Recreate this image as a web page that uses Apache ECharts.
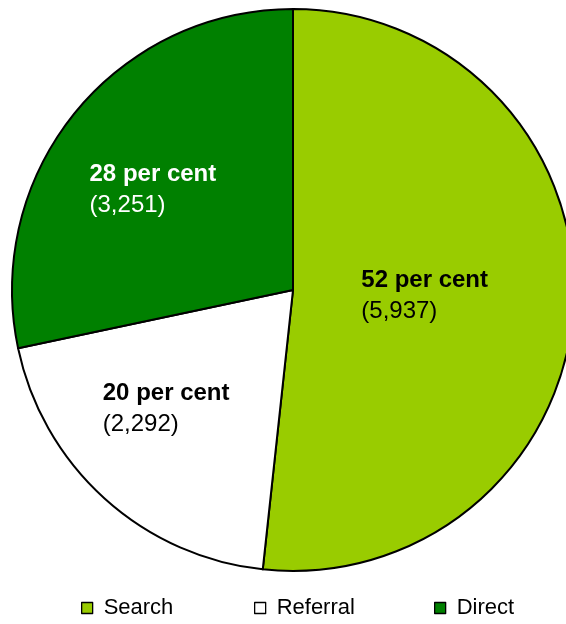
<!DOCTYPE html>
<html>
<head>
<meta charset="utf-8">
<script src="https://cdn.jsdelivr.net/npm/echarts@6/dist/echarts.min.js"></script>
<style>
  html, body { margin: 0; padding: 0; background: #fff; }
  #chart { width: 566px; height: 624px; }
</style>
</head>
<body>
<div id="chart"></div>
<script>
// Visits by traffic source
const categories = ['Search', 'Referral', 'Direct'];
const visits = [5937, 2292, 3251];
const sliceColors = ['#99CC00', '#FFFFFF', '#008000'];
const labelColors = ['#000000', '#000000', '#FFFFFF'];

const FONT = "'Liberation Sans', Arial, Helvetica, sans-serif";

// Nudges of each label block away from the slice's inner anchor point
const labelShift = [[-11, -2], [-30, 12], [-28, -10]];
// Left edge of each legend entry
const legendLeft = [76, 249, 429];

const total = visits.reduce((a, b) => a + b, 0);

const chart = echarts.init(document.getElementById('chart'), null, { renderer: 'canvas' });

const seriesData = categories.map((name, i) => ({
  name: name,
  value: visits[i],
  itemStyle: { color: sliceColors[i] },
  label: { color: labelColors[i] }
}));

const legends = categories.map((name, i) => ({
  data: [name],
  left: legendLeft[i],
  top: 592,
  orient: 'horizontal',
  icon: 'rect',
  itemWidth: 11,
  itemHeight: 11,
  itemStyle: { borderColor: '#000', borderWidth: 1.3 },
  selectedMode: false,
  textStyle: {
    fontFamily: FONT,
    fontSize: 22,
    color: '#000',
    padding: [0, 0, 0, 6]
  }
}));

chart.setOption({
  animation: false,
  backgroundColor: '#fff',
  legend: legends,
  series: [{
    type: 'pie',
    center: [293, 290],
    radius: [0, 281],
    startAngle: 90,
    clockwise: true,
    avoidLabelOverlap: false,
    silent: true,
    itemStyle: { borderColor: '#000', borderWidth: 2 },
    labelLine: { show: false },
    emphasis: { disabled: true },
    label: {
      show: true,
      position: 'inside',
      fontFamily: FONT,
      formatter: function (p) {
        const pct = Math.round(p.value / total * 100);
        return '{b|' + pct + ' per cent}\n{v|(' + p.value.toLocaleString('en-US') + ')}';
      },
      rich: {
        b: { fontFamily: FONT, fontSize: 24, fontWeight: 'bold', lineHeight: 31, width: 128, align: 'left' },
        v: { fontFamily: FONT, fontSize: 24, lineHeight: 31, width: 128, align: 'left' }
      }
    },
    labelLayout: function (params) {
      const s = labelShift[params.dataIndex];
      return { dx: s[0], dy: s[1] };
    },
    data: seriesData
  }]
});
</script>
</body>
</html>
